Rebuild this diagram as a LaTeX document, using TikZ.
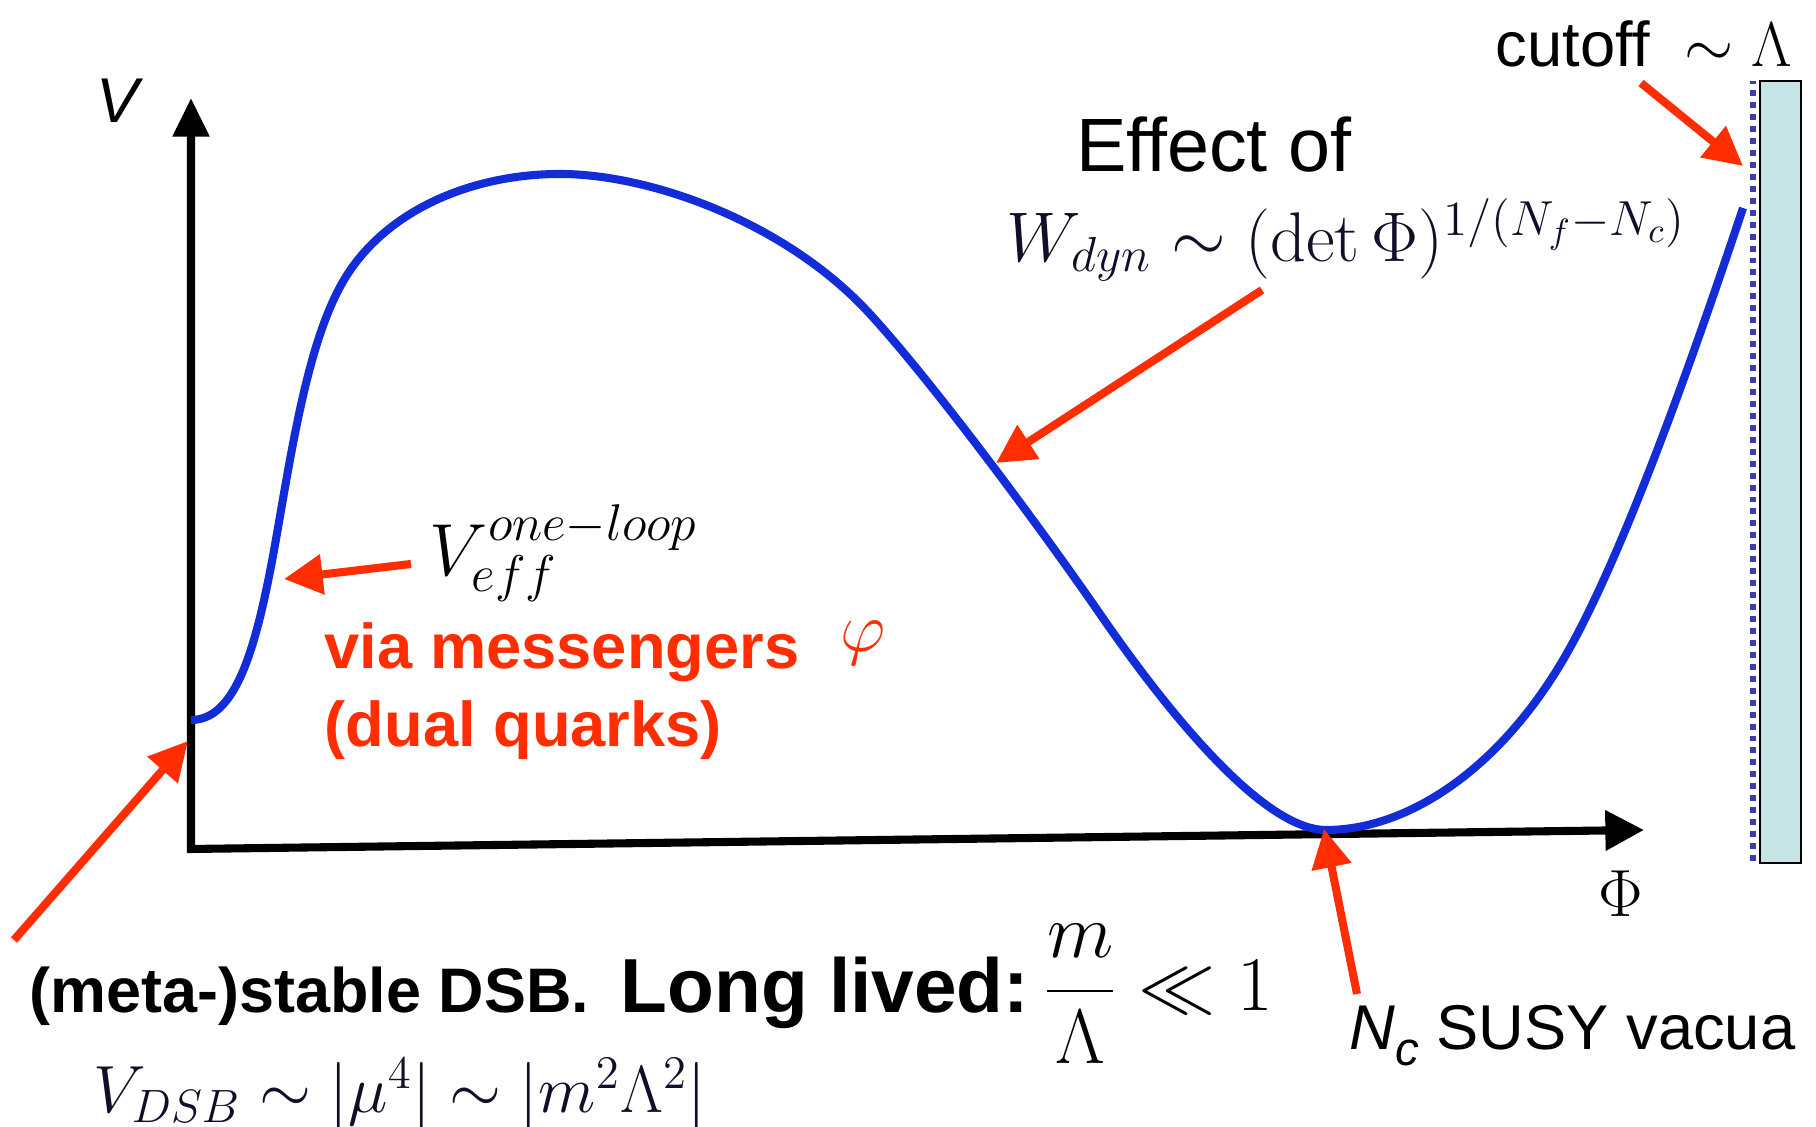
\RequirePackage{fix-cm}
\documentclass[tikz,border=0pt]{standalone}
\usepackage[no-math]{fontspec}
\setmainfont{Liberation Sans}
\usetikzlibrary{arrows.meta}
\definecolor{callred}{RGB}{255,45,0}
\definecolor{curveblue}{RGB}{18,45,215}
\definecolor{wallcyan}{RGB}{196,228,230}
\definecolor{wallblue}{RGB}{60,60,170}
\definecolor{formulaink}{RGB}{15,15,40}

\begin{document}
\begin{tikzpicture}[line cap=butt,
  axis/.style={line width=2.3pt},
  callout/.style={callred,line width=2.3pt,-{Triangle[length=11pt,width=11pt]}},
  lbl/.style={inner sep=0pt}]
\useasboundingbox (0,0) rectangle (18.16,11.27);
% axes
\coordinate (O) at (1.91,2.78);
\coordinate (ytip) at (1.91,10.29);
\coordinate (xtip) at (16.44,2.97);
\draw[axis,{Triangle[length=11pt,width=10pt]}-{Triangle[length=11pt,width=11pt]}] (ytip) -- (O) -- (xtip);
\node[lbl,font=\fontsize{18}{20}\selectfont\itshape] (vlab) at (1.18,10.26) {V};
\node[lbl,font=\fontsize{19}{22}\selectfont] (philab) at (16.21,2.33) {$\Phi$};
% cutoff wall
\draw[fill=wallcyan,line width=0.6pt] (17.60,2.64) rectangle (18.01,10.46);
\draw[wallblue,line width=1.6pt,dash pattern=on 1.7pt off 1.7pt] (17.53,2.66) -- (17.53,10.46);
% potential
\draw[curveblue,line width=2.3pt] (1.91,4.07)
  .. controls (2.35,4.07) and (2.55,4.75) .. (2.73,5.71)
  .. controls (2.90,6.65) and (3.05,7.75) .. (3.40,8.40)
  .. controls (3.80,9.15) and (4.70,9.53) .. (5.60,9.53)
  .. controls (6.50,9.53) and (7.85,9.05) .. (8.69,8.14)
  .. controls (9.30,7.48) and (10.40,6.00) .. (11.00,5.13)
  .. controls (11.60,4.26) and (12.60,2.97) .. (13.26,2.97)
  .. controls (14.10,2.97) and (15.00,3.60) .. (15.63,4.67)
  .. controls (16.20,5.64) and (16.90,7.60) .. (17.43,9.19);
% labels
\node[lbl,font=\fontsize{18}{20}\selectfont] (cutoff) at (16.44,10.83) {cutoff\ \ $\sim\Lambda$};
\node[lbl,font=\fontsize{21.5}{24}\selectfont] (effect) at (12.14,9.82) {Effect of};
\node[lbl,font=\fontsize{20}{22}\selectfont,text=formulaink] (wdyn) at (13.46,8.87) {$W_{dyn}\sim(\det\Phi)^{1/(N_f-N_c)}$};
\node[lbl,font=\fontsize{21}{24}\selectfont] (veff) at (5.64,5.74) {$V_{eff}^{one-loop}$};
\node[lbl,anchor=base west,font=\fontsize{18}{20}\selectfont\bfseries,text=callred] (via) at (3.24,4.58) {via messengers};
\node[lbl,text=callred,font=\fontsize{20}{22}\selectfont] (phi) at (8.63,4.84) {$\varphi$};
\node[lbl,anchor=base west,font=\fontsize{18}{20}\selectfont\bfseries,text=callred] (dual) at (3.24,3.80) {(dual quarks)};
\node[lbl,anchor=base west,font=\fontsize{17.9}{20}\selectfont\bfseries] (meta) at (0.29,1.14) {(meta-)stable DSB.};
\node[lbl,anchor=base west,font=\fontsize{21.8}{24}\selectfont\bfseries] (long) at (6.20,1.14) {Long lived:};
\node[lbl,font=\fontsize{22}{24}\selectfont] (ratio) at (11.58,1.33) {$\displaystyle\frac{m}{\Lambda}\ll 1$};
\node[lbl,anchor=west,font=\fontsize{19}{22}\selectfont,text=formulaink] (vdsb) at (0.93,0.33) {$V_{DSB}\sim|\mu^4|\sim|m^2\Lambda^2|$};
\node[lbl,anchor=base west,font=\fontsize{18}{20}\selectfont] (susy) at (13.49,0.77) {\textit{N}\raisebox{-4.3pt}{\fontsize{13.5}{14}\selectfont\textit{c}} SUSY vacua};
% callouts
\coordinate (cut tail) at (16.41,10.44);
\coordinate (cut tip) at (17.43,9.61);
\coordinate (w tail) at (12.62,8.37);
\coordinate (w tip) at (9.96,6.64);
\coordinate (loop tail) at (4.11,5.63);
\coordinate (loop tip) at (2.84,5.48);
\coordinate (dsb tail) at (0.14,1.87);
\coordinate (dsb tip) at (1.88,3.86);
\coordinate (susy tail) at (13.57,1.33);
\coordinate (susy tip) at (13.24,2.98);
\draw[callout] (cut tail) -- (cut tip);
\draw[callout] (w tail) -- (w tip);
\draw[callout] (loop tail) -- (loop tip);
\draw[callout] (dsb tail) -- (dsb tip);
\draw[callout] (susy tail) -- (susy tip);
\end{tikzpicture}
\end{document}
